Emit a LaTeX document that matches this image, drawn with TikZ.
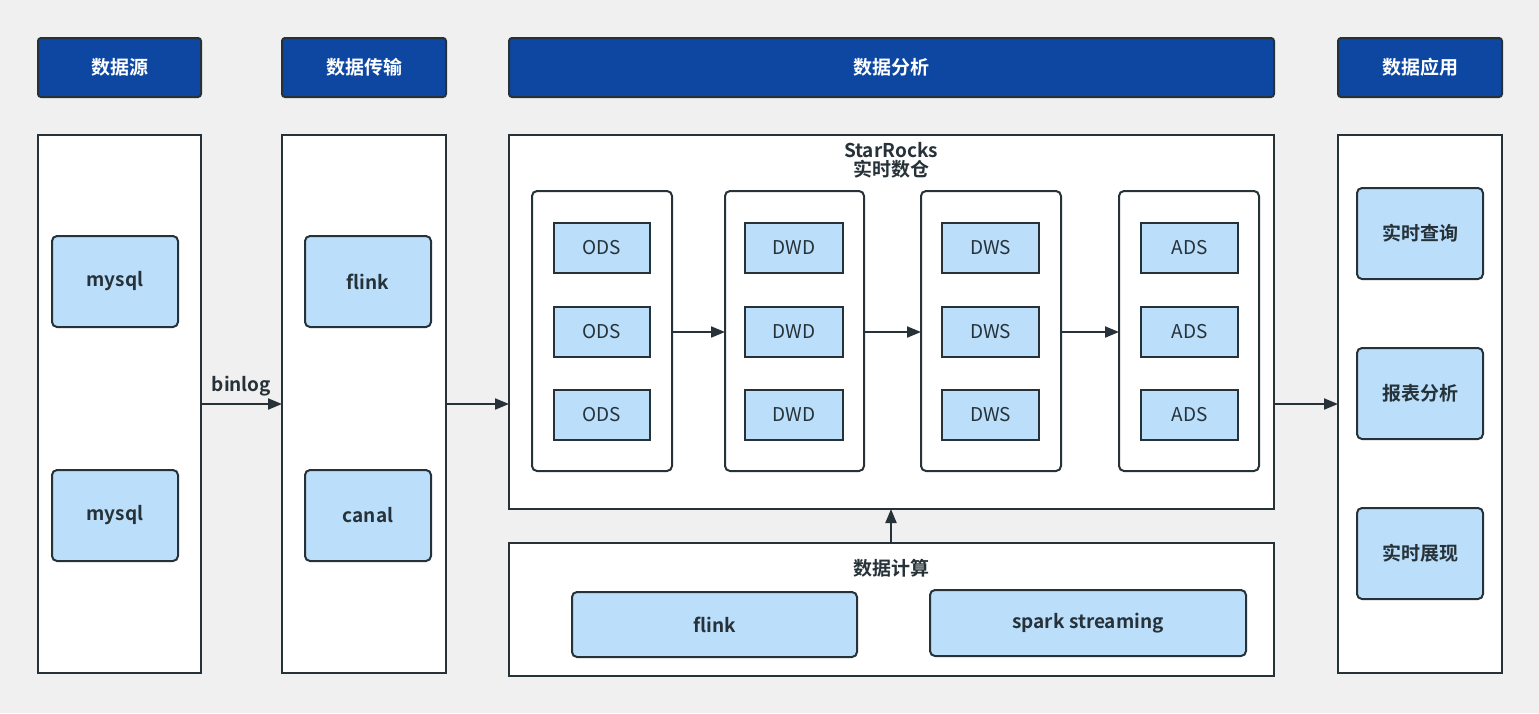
\documentclass[tikz,border=0pt]{standalone}
\usepackage{fontspec}
\setmainfont{Noto Sans CJK SC}
\newfontfamily\cjkb{Noto Sans CJK SC Bold}
\usetikzlibrary{arrows.meta}
\definecolor{bgc}{HTML}{F0F0F0}
\definecolor{hdr}{HTML}{0D47A1}
\definecolor{lb}{HTML}{BBDEFB}
\definecolor{ln}{HTML}{263238}
\tikzset{
 x=1pt,y=-1pt,
 hdrbox/.style={draw=ln,line width=2pt,fill=hdr,rounded corners=3pt,text=white,font=\cjkb\fontsize{19}{22}\selectfont},
 colbox/.style={draw=ln,line width=2pt,fill=white},
 grpbox/.style={draw=ln,line width=2pt,fill=white,rounded corners=5pt},
 itembox/.style={draw=ln,line width=2pt,fill=lb,rounded corners=5pt,text=ln,font=\cjkb\fontsize{19}{22}\selectfont},
 smallbox/.style={draw=ln,line width=2pt,fill=lb,text=ln,font=\fontsize{19}{22}\selectfont},
 arr/.style={draw=ln,line width=2pt,-{Triangle[length=14pt,width=11pt]}},
 lbl/.style={text=ln,font=\cjkb\fontsize{19}{23}\selectfont,align=center}
}
\newcommand{\bx}[5]{\path[#1] (#2) rectangle (#3) node[midway] (#4) {#5};}
\begin{document}
\begin{tikzpicture}
\fill[bgc] (0,0) rectangle (1539,713);
\useasboundingbox (0,0) rectangle (1539,713);
% headers
\path[hdrbox] (38,38) rectangle (201,97) node[midway] (h1) {数据源};
\path[hdrbox] (282,38) rectangle (446,97) node[midway] (h2) {数据传输};
\path[hdrbox] (509,38) rectangle (1274,97) node[midway] (h3) {数据分析};
\path[hdrbox] (1338,38) rectangle (1502,97) node[midway] (h4) {数据应用};
% columns
\path[colbox] (38,135) rectangle (201,673) node[midway] (c1) {};
\path[colbox] (282,135) rectangle (446,673) node[midway] (c2) {};
\path[colbox] (509,135) rectangle (1274,509) node[midway] (c3) {};
\path[colbox] (1338,135) rectangle (1502,673) node[midway] (c4) {};
\path[colbox] (509,543) rectangle (1274,676) node[midway] (c5) {};
\coordinate (c1r) at (201,404); \coordinate (c2l) at (282,404);
\coordinate (c2r) at (446,404); \coordinate (c3l) at (509,404);
\coordinate (c3r) at (1274,404); \coordinate (c4l) at (1338,404);
\coordinate (c3b) at (891,509); \coordinate (c5t) at (891,543);
\node[lbl] (t3) at (891,160) {StarRocks\\[-4pt]实时数仓};
\node[lbl] (t5) at (891,568) {数据计算};
% source
\path[itembox] (52,236) rectangle (178,327) node[midway] (m1) {mysql};
\path[itembox] (52,470) rectangle (178,561) node[midway] (m2) {mysql};
\path[itembox] (305,236) rectangle (431,327) node[midway] (f1) {flink};
\path[itembox] (305,470) rectangle (431,561) node[midway] (ca) {canal};
% apps
\path[itembox] (1357,188) rectangle (1483,279) node[midway] (a1) {实时查询};
\path[itembox] (1357,348) rectangle (1483,439) node[midway] (a2) {报表分析};
\path[itembox] (1357,508) rectangle (1483,599) node[midway] (a3) {实时展现};
% compute
\path[itembox] (572,592) rectangle (857,657) node[midway] (k1) {flink};
\path[itembox] (930,590) rectangle (1246,656) node[midway] (k2) {spark streaming};
% groups
\foreach \gx/\gy/\bxl/\bxr/\t/\n in {532/672/554/650/ODS/g1,725/864/745/843/DWD/g2,921/1061/942/1039/DWS/g3,1119/1259/1141/1238/ADS/g4}{
 \path[grpbox] (\gx,191) rectangle (\gy,471);
 \coordinate (\n l) at (\gx,332); \coordinate (\n r) at (\gy,332);
 \path[smallbox] (\bxl,223) rectangle (\bxr,273) node[midway] (\n a) {\t};
 \path[smallbox] (\bxl,307) rectangle (\bxr,357) node[midway] (\n b) {\t};
 \path[smallbox] (\bxl,390) rectangle (\bxr,440) node[midway] (\n c) {\t};
}
% arrows
\draw[arr] (c1r) -- node[lbl,above=4pt] (bl) {binlog} (c2l);
\draw[arr] (c2r) -- (c3l);
\draw[arr] (c3r) -- (c4l);
\draw[arr] (c5t) -- (c3b);
\draw[arr] (g1r) -- (g2l);
\draw[arr] (g2r) -- (g3l);
\draw[arr] (g3r) -- (g4l);
\end{tikzpicture}
\end{document}
